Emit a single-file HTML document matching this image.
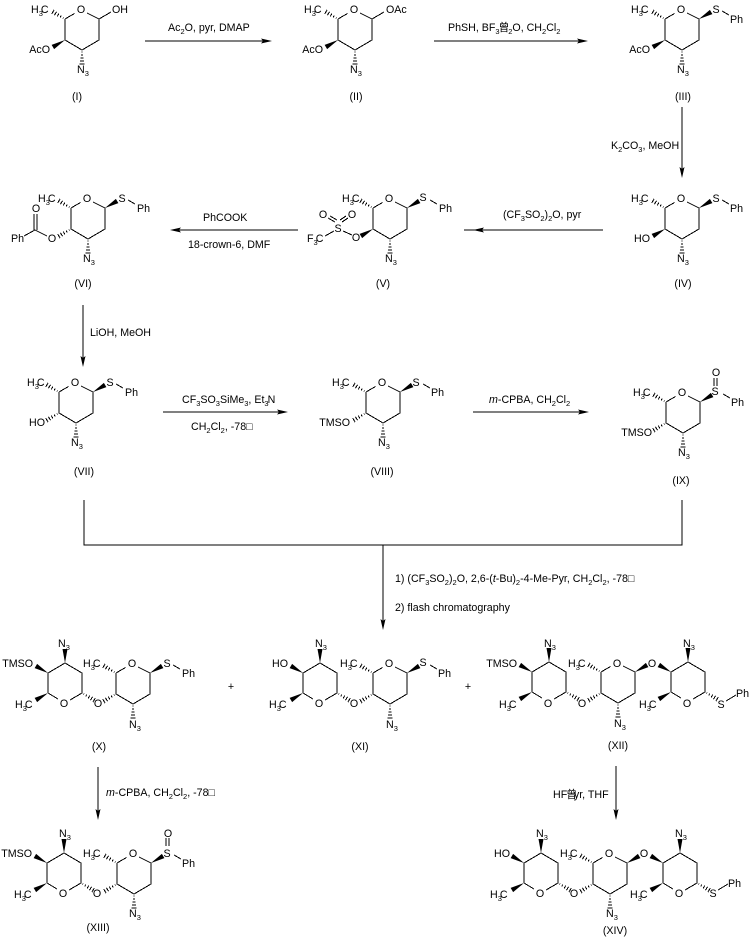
<!DOCTYPE html>
<html><head><meta charset="utf-8"><style>
html,body{margin:0;padding:0;background:#fff}
svg{display:block}
text{font-family:"Liberation Sans","Noto Sans CJK SC",sans-serif;font-size:10.67px;fill:#000}
.s{font-size:7.5px}
.c{text-anchor:middle}
.e{text-anchor:end}
.b{fill:none;stroke:#000;stroke-width:1;shape-rendering:crispEdges}
</style></head><body>
<svg width="753" height="946" viewBox="0 0 753 946" xmlns="http://www.w3.org/2000/svg">
<defs>
<path id="h" class="b" d="M2 -.5V.5M5 -1V1M8 -1.5V1.5M11 -2V2M14 -2.5V2.5"/>
<polygon id="w" points="0,0 14,-2.5 14,2.5"/>
<polygon id="a" points="0,0 -11,-2.5 -9,0 -11,2.5"/>
<g id="m"><path class="b" d="M0 0L9.5 -5.5M22 -6L34 0V21L17 31L0 21L0 0"/><use href="#h" transform="rotate(-150)"/><use href="#h" transform="translate(17,31) rotate(90)"/></g>
<g id="l"><path class="b" d="M0 20L10 26M22 27L34 20V0L17 -10L0 0V20"/><use href="#w" transform="rotate(-150)"/><use href="#w" transform="translate(0,20) rotate(150)"/><use href="#w" transform="translate(17,-10) rotate(-90)"/></g>
<g id="sp"><use href="#w" transform="translate(34,0) rotate(-30)"/><path class="b" d="M57 -8L64 -4"/></g>
</defs>

<!-- I -->
<g transform="translate(65,19)"><use href="#m"/><path class="b" d="M34 0L46 -7"/><use href="#w" transform="translate(0,21) rotate(150)"/>
<text x="16" y="-6" class="c">O</text><text x="-34" y="-6">H<tspan class="s" dy="3">3</tspan><tspan dy="-3" dx="-2">C</tspan></text><text x="47" y="-6">OH</text><text x="-15" y="34" class="e">AcO</text><text x="12" y="54">N<tspan class="s" dy="3">3</tspan></text></g>
<text x="77" y="100" class="c">(I)</text>

<!-- II -->
<g transform="translate(338,19)"><use href="#m"/><path class="b" d="M34 0L46 -7"/><use href="#w" transform="translate(0,21) rotate(150)"/>
<text x="16" y="-6" class="c">O</text><text x="-34" y="-6">H<tspan class="s" dy="3">3</tspan><tspan dy="-3" dx="-2">C</tspan></text><text x="48" y="-6">OAc</text><text x="-15" y="34" class="e">AcO</text><text x="12" y="54">N<tspan class="s" dy="3">3</tspan></text></g>
<text x="356" y="100" class="c">(II)</text>

<!-- III -->
<g transform="translate(665,19)"><use href="#m"/><use href="#sp"/><use href="#w" transform="translate(0,21) rotate(150)"/>
<text x="16" y="-6" class="c">O</text><text x="-34" y="-6">H<tspan class="s" dy="3">3</tspan><tspan dy="-3" dx="-2">C</tspan></text><text x="51" y="-6" class="c">S</text><text x="65" y="4">Ph</text><text x="-15" y="34" class="e">AcO</text><text x="12" y="54">N<tspan class="s" dy="3">3</tspan></text></g>
<text x="683" y="100" class="c">(III)</text>

<!-- IV -->
<g transform="translate(665,208)"><use href="#m"/><use href="#sp"/><use href="#w" transform="translate(0,21) rotate(150)"/>
<text x="16" y="-6" class="c">O</text><text x="-34" y="-6">H<tspan class="s" dy="3">3</tspan><tspan dy="-3" dx="-2">C</tspan></text><text x="51" y="-6" class="c">S</text><text x="65" y="4">Ph</text><text x="-15" y="34" class="e">HO</text><text x="12" y="54">N<tspan class="s" dy="3">3</tspan></text></g>
<text x="683" y="287" class="c">(IV)</text>

<!-- V -->
<g transform="translate(373,208)"><use href="#m"/><use href="#sp"/><use href="#w" transform="translate(0,21) rotate(150)"/>
<text x="16" y="-6" class="c">O</text><text x="-31" y="-6">H<tspan class="s" dy="3">3</tspan><tspan dy="-3" dx="-2">C</tspan></text><text x="50" y="-7" class="c">S</text><text x="66" y="4">Ph</text><text x="12" y="54">N<tspan class="s" dy="3">3</tspan></text></g>
<path class="b" d="M352 235L343 231M325 236L334 231M335 222L328 218M337 220L330 216M342 222L348 218M340 220L346 216"/>
<text x="356" y="241" class="c">O</text><text x="338" y="232" class="c">S</text><text x="323" y="218" class="c">O</text><text x="352" y="218" class="c">O</text>
<text x="307" y="242">F<tspan class="s" dy="3">3</tspan><tspan dy="-3" dx="-2">C</tspan></text>
<text x="383" y="287" class="c">(V)</text>

<!-- VI -->
<g transform="translate(71,208)"><use href="#m"/><use href="#sp"/><use href="#h" transform="translate(0,21) rotate(150)"/>
<text x="16" y="-6" class="c">O</text><text x="-33" y="-6">H<tspan class="s" dy="3">3</tspan><tspan dy="-3" dx="-2">C</tspan></text><text x="51" y="-6" class="c">S</text><text x="66" y="4">Ph</text><text x="12" y="54">N<tspan class="s" dy="3">3</tspan></text></g>
<path class="b" d="M35 230L47 236M24 236L35 230M34 230V214M37 230V214"/>
<text x="52" y="242" class="c">O</text><text x="36" y="212" class="c">O</text><text x="11" y="242">Ph</text>
<text x="83" y="287" class="c">(VI)</text>

<!-- VII -->
<g transform="translate(59,392)"><use href="#m"/><use href="#sp"/><use href="#h" transform="translate(0,21) rotate(150)"/>
<text x="16" y="-6" class="c">O</text><text x="-32" y="-6">H<tspan class="s" dy="3">3</tspan><tspan dy="-3" dx="-2">C</tspan></text><text x="51" y="-6" class="c">S</text><text x="66" y="4">Ph</text><text x="-14" y="34" class="e">HO</text><text x="12" y="54">N<tspan class="s" dy="3">3</tspan></text></g>
<text x="84" y="475" class="c">(VII)</text>

<!-- VIII -->
<g transform="translate(366,392)"><use href="#m"/><use href="#sp"/><use href="#h" transform="translate(0,21) rotate(150)"/>
<text x="16" y="-6" class="c">O</text><text x="-34" y="-6">H<tspan class="s" dy="3">3</tspan><tspan dy="-3" dx="-2">C</tspan></text><text x="50" y="-6" class="c">S</text><text x="65" y="4">Ph</text><text x="-16" y="34" class="e">TMSO</text><text x="12" y="54">N<tspan class="s" dy="3">3</tspan></text></g>
<text x="382" y="475" class="c">(VIII)</text>

<!-- IX -->
<g transform="translate(666,402)"><use href="#m"/><use href="#sp"/><use href="#h" transform="translate(0,21) rotate(150)"/>
<text x="16" y="-6" class="c">O</text><text x="-33" y="-6">H<tspan class="s" dy="3">3</tspan><tspan dy="-3" dx="-2">C</tspan></text><text x="49" y="-7" class="c">S</text><text x="65" y="4">Ph</text><text x="-14" y="34" class="e">TMSO</text><text x="12" y="54">N<tspan class="s" dy="3">3</tspan></text></g>
<path class="b" d="M714 378V386M717 378V386"/><text x="716" y="376" class="c">O</text>
<text x="681" y="484" class="c">(IX)</text>

<!-- X -->
<g transform="translate(48,673)"><use href="#l"/><use href="#h" transform="translate(34,20) rotate(30)"/>
<text x="16" y="34" class="c">O</text><text x="10" y="-26">N<tspan class="s" dy="3">3</tspan></text><text x="-33" y="35">H<tspan class="s" dy="3">3</tspan><tspan dy="-3" dx="-2">C</tspan></text><text x="-15" y="-6" class="e">TMSO</text><text x="50" y="34" class="c">O</text></g>
<g transform="translate(116,673)"><use href="#m"/><use href="#sp"/><use href="#h" transform="translate(0,21) rotate(150)"/>
<text x="16" y="-6" class="c">O</text><text x="-33" y="-6">H<tspan class="s" dy="3">3</tspan><tspan dy="-3" dx="-2">C</tspan></text><text x="51" y="-6" class="c">S</text><text x="66" y="4">Ph</text><text x="13" y="55">N<tspan class="s" dy="3">3</tspan></text></g>
<text x="99" y="750" class="c">(X)</text>
<text x="231" y="690" class="c">+</text>

<!-- XI -->
<g transform="translate(303,673)"><use href="#l"/><use href="#h" transform="translate(34,20) rotate(30)"/>
<text x="16" y="34" class="c">O</text><text x="12" y="-26">N<tspan class="s" dy="3">3</tspan></text><text x="-34" y="35">H<tspan class="s" dy="3">3</tspan><tspan dy="-3" dx="-2">C</tspan></text><text x="-15" y="-6" class="e">HO</text><text x="51" y="34" class="c">O</text></g>
<g transform="translate(373,673)"><use href="#m"/><use href="#sp"/><use href="#h" transform="translate(0,21) rotate(150)"/>
<text x="16" y="-6" class="c">O</text><text x="-33" y="-6">H<tspan class="s" dy="3">3</tspan><tspan dy="-3" dx="-2">C</tspan></text><text x="50" y="-7" class="c">S</text><text x="65" y="4">Ph</text><text x="13" y="55">N<tspan class="s" dy="3">3</tspan></text></g>
<text x="360" y="750" class="c">(XI)</text>
<text x="468" y="690" class="c">+</text>

<!-- XII -->
<g transform="translate(532,672)"><use href="#l"/><use href="#h" transform="translate(34,20) rotate(30)"/>
<text x="16" y="35" class="c">O</text><text x="12" y="-25">N<tspan class="s" dy="3">3</tspan></text><text x="-33" y="36">H<tspan class="s" dy="3">3</tspan><tspan dy="-3" dx="-2">C</tspan></text><text x="-15" y="-5" class="e">TMSO</text><text x="50" y="35" class="c">O</text></g>
<g transform="translate(601,672)"><use href="#m"/><use href="#w" transform="translate(34,0) rotate(-30)"/><use href="#h" transform="translate(0,21) rotate(150)"/>
<text x="16" y="-5" class="c">O</text><text x="-33" y="-5">H<tspan class="s" dy="3">3</tspan><tspan dy="-3" dx="-2">C</tspan></text><text x="51" y="-5" class="c">O</text><text x="13" y="55">N<tspan class="s" dy="3">3</tspan></text></g>
<g transform="translate(671,672)"><use href="#l"/><use href="#h" transform="translate(34,20) rotate(30)"/><path class="b" d="M55 29L65 23"/>
<text x="16" y="35" class="c">O</text><text x="12" y="-25">N<tspan class="s" dy="3">3</tspan></text><text x="-32" y="36">H<tspan class="s" dy="3">3</tspan><tspan dy="-3" dx="-2">C</tspan></text><text x="50" y="36" class="c">S</text><text x="65" y="25">Ph</text></g>
<text x="618" y="749" class="c">(XII)</text>

<!-- XIII -->
<g transform="translate(47,863)"><use href="#l"/><use href="#h" transform="translate(34,20) rotate(30)"/>
<text x="16" y="34" class="c">O</text><text x="12" y="-26">N<tspan class="s" dy="3">3</tspan></text><text x="-33" y="35">H<tspan class="s" dy="3">3</tspan><tspan dy="-3" dx="-2">C</tspan></text><text x="-15" y="-6" class="e">TMSO</text><text x="50" y="34" class="c">O</text></g>
<g transform="translate(117,863)"><use href="#m"/><use href="#sp"/><use href="#h" transform="translate(0,21) rotate(150)"/>
<text x="16" y="-6" class="c">O</text><text x="-34" y="-6">H<tspan class="s" dy="3">3</tspan><tspan dy="-3" dx="-2">C</tspan></text><text x="50" y="-6" class="c">S</text><text x="65" y="4">Ph</text><text x="12" y="54">N<tspan class="s" dy="3">3</tspan></text></g>
<path class="b" d="M166 838V846M169 838V846"/><text x="168" y="837" class="c">O</text>
<text x="98" y="931" class="c">(XIII)</text>

<!-- XIV -->
<g transform="translate(524,863)"><use href="#l"/><use href="#h" transform="translate(34,20) rotate(30)"/>
<text x="16" y="34" class="c">O</text><text x="12" y="-26">N<tspan class="s" dy="3">3</tspan></text><text x="-34" y="35">H<tspan class="s" dy="3">3</tspan><tspan dy="-3" dx="-2">C</tspan></text><text x="-14" y="-6" class="e">HO</text><text x="50" y="34" class="c">O</text></g>
<g transform="translate(593,863)"><use href="#m"/><use href="#w" transform="translate(34,0) rotate(-30)"/><use href="#h" transform="translate(0,21) rotate(150)"/>
<text x="16" y="-6" class="c">O</text><text x="-33" y="-6">H<tspan class="s" dy="3">3</tspan><tspan dy="-3" dx="-2">C</tspan></text><text x="51" y="-6" class="c">O</text><text x="13" y="54">N<tspan class="s" dy="3">3</tspan></text></g>
<g transform="translate(663,863)"><use href="#l"/><use href="#h" transform="translate(34,20) rotate(30)"/><path class="b" d="M55 27L65 21"/>
<text x="16" y="34" class="c">O</text><text x="12" y="-26">N<tspan class="s" dy="3">3</tspan></text><text x="-33" y="35">H<tspan class="s" dy="3">3</tspan><tspan dy="-3" dx="-2">C</tspan></text><text x="50" y="34" class="c">S</text><text x="65" y="24">Ph</text></g>
<text x="615" y="934" class="c">(XIV)</text>

<!-- arrows -->
<path class="b" d="M145 41H263M434 41H579M682 107V169M603 230H464M298 230H179M83 305V358M163 412H279M473 412H580M84 500V545H682V500M383 545V621M98 767V811M616 766V811"/>
<use href="#a" transform="translate(272,41)"/>
<use href="#a" transform="translate(588,41)"/>
<use href="#a" transform="translate(682,178) rotate(90)"/>
<use href="#a" transform="translate(473,230) rotate(180)"/>
<use href="#a" transform="translate(170,230) rotate(180)"/>
<use href="#a" transform="translate(83,367) rotate(90)"/>
<use href="#a" transform="translate(288,412)"/>
<use href="#a" transform="translate(589,412)"/>
<use href="#a" transform="translate(383,630) rotate(90)"/>
<use href="#a" transform="translate(98,820) rotate(90)"/>
<use href="#a" transform="translate(616,820) rotate(90)"/>

<!-- reagents -->
<text x="168" y="31">Ac<tspan class="s" dy="3">2</tspan><tspan dy="-3">O, pyr, DMAP</tspan></text>
<text x="448" y="31">PhSH, BF<tspan class="s" dy="3">3</tspan><tspan dy="-3" dx="-1">曾</tspan><tspan class="s" dy="3" dx="-1">2</tspan><tspan dy="-3">O, CH</tspan><tspan class="s" dy="3">2</tspan><tspan dy="-3">Cl</tspan><tspan class="s" dy="3">2</tspan></text>
<text x="611" y="149">K<tspan class="s" dy="3">2</tspan><tspan dy="-3">CO</tspan><tspan class="s" dy="3">3</tspan><tspan dy="-3">, MeOH</tspan></text>
<text x="503" y="218">(CF<tspan class="s" dy="3">3</tspan><tspan dy="-3">SO</tspan><tspan class="s" dy="3">2</tspan><tspan dy="-3">)</tspan><tspan class="s" dy="3">2</tspan><tspan dy="-3">O, pyr</tspan></text>
<text x="203" y="221">PhCOOK</text>
<text x="188" y="248">18-crown-6, DMF</text>
<text x="90" y="336">LiOH, MeOH</text>
<text x="182" y="403">CF<tspan class="s" dy="3">3</tspan><tspan dy="-3">SO</tspan><tspan class="s" dy="3">3</tspan><tspan dy="-3">SiMe</tspan><tspan class="s" dy="3">3</tspan><tspan dy="-3">, Et</tspan><tspan class="s" dy="3">3</tspan><tspan dy="-3" dx="-1">N</tspan></text>
<text x="191" y="430">CH<tspan class="s" dy="3">2</tspan><tspan dy="-3">Cl</tspan><tspan class="s" dy="3">2</tspan><tspan dy="-3">, -78□</tspan></text>
<text x="489" y="403"><tspan font-style="italic">m</tspan>-CPBA, CH<tspan class="s" dy="3">2</tspan><tspan dy="-3">Cl</tspan><tspan class="s" dy="3">2</tspan></text>
<text x="395" y="582">1) (CF<tspan class="s" dy="3">3</tspan><tspan dy="-3">SO</tspan><tspan class="s" dy="3">2</tspan><tspan dy="-3">)</tspan><tspan class="s" dy="3">2</tspan><tspan dy="-3">O, 2,6-(</tspan><tspan font-style="italic">t</tspan>-Bu)<tspan class="s" dy="3">2</tspan><tspan dy="-3">-4-Me-Pyr, CH</tspan><tspan class="s" dy="3">2</tspan><tspan dy="-3">Cl</tspan><tspan class="s" dy="3">2</tspan><tspan dy="-3">, -78□</tspan></text>
<text x="395" y="611">2) flash chromatography</text>
<text x="106" y="796"><tspan font-style="italic">m</tspan>-CPBA, CH<tspan class="s" dy="3">2</tspan><tspan dy="-3">Cl</tspan><tspan class="s" dy="3">2</tspan><tspan dy="-3">, -78□</tspan></text>
<text x="553" y="798">HF<tspan dx="-1">曾</tspan><tspan dx="-3">yr, THF</tspan></text>
</svg>
</body></html>
